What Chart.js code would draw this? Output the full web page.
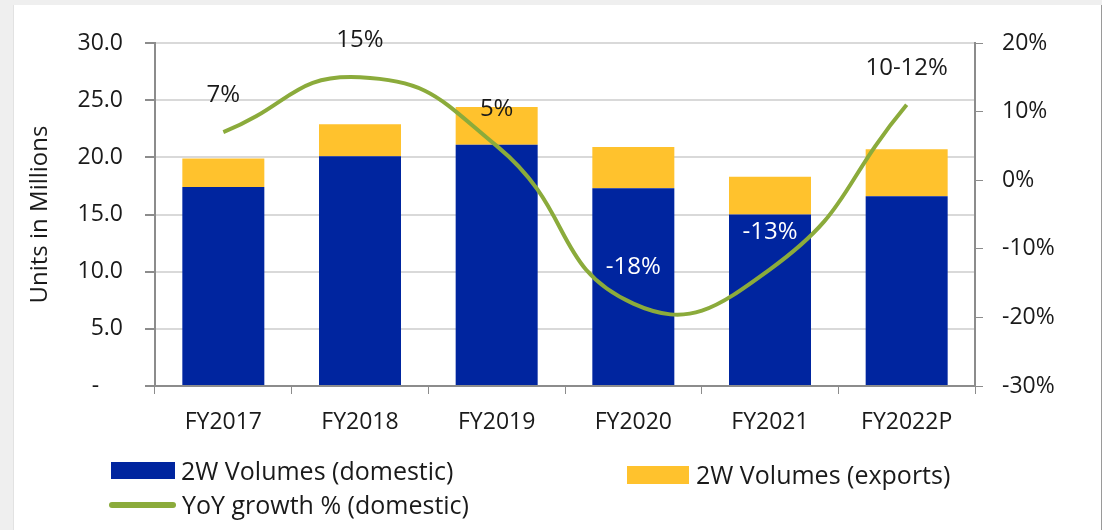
<!DOCTYPE html>
<html>
<head>
<meta charset="utf-8">
<script src="https://cdn.jsdelivr.net/npm/chart.js@4.4.1/dist/chart.umd.min.js"></script>
<style>
  html, body { margin: 0; padding: 0; }
  body { width: 1102px; height: 530px; background: #efefef; position: relative; overflow: hidden; font-family: "Open Sans", Lato, sans-serif; }
  #panel { position: absolute; left: 13px; top: 5px; width: 1087px; height: 525px; background: #fff; border-right: 1px solid #9a9a9a; border-left: 1px solid #e2e2e2; }
  #wrap { position: absolute; left: 0; top: 0; width: 1102px; height: 530px; }
  .lg { position: absolute; font-size: 25px; color: #1a1a1a; line-height: 26px; white-space: nowrap; }
  .sw { position: absolute; }
</style>
</head>
<body>
<div id="panel"></div>
<div id="wrap"><canvas id="chart" width="1102" height="530"></canvas></div>

<div class="sw" style="left:111px;top:462px;width:64px;height:17px;background:#00259f;"></div>
<div class="lg" style="left:181px;top:457px;">2W Volumes (domestic)</div>
<div class="sw" style="left:627px;top:466px;width:62px;height:18px;background:#ffc22d;"></div>
<div class="lg" style="left:696px;top:461px;">2W Volumes (exports)</div>
<div class="sw" style="left:109px;top:502px;width:67px;height:6px;border-radius:3px;background:#8bab3b;"></div>
<div class="lg" style="left:182px;top:491px;">YoY growth % (domestic)</div>

<script>
// values (units in millions / % growth)
const years = ['FY2017', 'FY2018', 'FY2019', 'FY2020', 'FY2021', 'FY2022P'];
const domestic = [17.4, 20.1, 21.1, 17.3, 15.0, 16.6];
const exportsVol = [2.5, 2.8, 3.3, 3.6, 3.3, 4.1];
const growth = [7, 15, 5, -18, -13, 11];
const growthLabels = ['7%', '15%', '5%', '-18%', '-13%', '10-12%'];
const labelColors = ['#1a1a1a', '#1a1a1a', '#1a1a1a', '#ffffff', '#ffffff', '#1a1a1a'];

const textColor = '#1a1a1a';
const axisColor = '#8c8c8c';
const gridColor = '#d9d9d9';
const fontFamily = '"Open Sans"';

// draw the % labels above each line point
const growthLabelPlugin = {
  id: 'growthLabels',
  afterDatasetsDraw(chart) {
    const meta = chart.getDatasetMeta(2);
    const ctx = chart.ctx;
    ctx.save();
    ctx.font = '24px ' + fontFamily;
    ctx.textAlign = 'center';
    ctx.textBaseline = 'middle';
    meta.data.forEach((pt, i) => {
      ctx.fillStyle = labelColors[i];
      ctx.fillText(growthLabels[i], pt.x, pt.y - 37);
    });
    ctx.restore();
  }
};

new Chart(document.getElementById('chart').getContext('2d'), {
  type: 'bar',
  data: {
    labels: years,
    datasets: [
      {
        label: '2W Volumes (domestic)',
        data: domestic,
        backgroundColor: '#00259f',
        stack: 'vol',
        yAxisID: 'y',
        order: 2,
        barPercentage: 0.6,
        categoryPercentage: 1
      },
      {
        label: '2W Volumes (exports)',
        data: exportsVol,
        backgroundColor: '#ffc22d',
        stack: 'vol',
        yAxisID: 'y',
        order: 2,
        barPercentage: 0.6,
        categoryPercentage: 1
      },
      {
        type: 'line',
        label: 'YoY growth % (domestic)',
        data: growth,
        borderColor: '#8bab3b',
        borderWidth: 4,
        pointRadius: 0,
        tension: 0.5,
        fill: false,
        yAxisID: 'y1',
        order: 0
      }
    ]
  },
  options: {
    responsive: false,
    animation: false,
    layout: { padding: { left: 13, top: 43, right: 0, bottom: 0 } },
    plugins: {
      legend: { display: false },
      tooltip: { enabled: false }
    },
    scales: {
      x: {
        stacked: true,
        afterFit(s) { s.height = 144; },
        ticks: { color: textColor, font: { family: fontFamily, size: 23 }, padding: 15 },
        grid: { drawOnChartArea: false, color: axisColor, tickLength: 8, offset: true },
        border: { color: axisColor, width: 2 }
      },
      y: {
        stacked: true,
        position: 'left',
        min: 0,
        max: 30,
        afterFit(s) { s.width = 142; },
        ticks: {
          stepSize: 5,
          color: textColor,
          font: { family: fontFamily, size: 23 },
          padding: 22,
          callback: v => v === 0 ? '-    ' : v.toFixed(1)
        },
        grid: { color: gridColor, lineWidth: 2, tickColor: axisColor, tickLength: 10 },
        border: { color: axisColor, width: 2 },
        title: {
          display: true,
          text: 'Units in Millions',
          color: textColor,
          font: { family: fontFamily, size: 24 },
          padding: { top: 13, bottom: 0 }
        }
      },
      y1: {
        position: 'right',
        min: -30,
        max: 20,
        afterFit(s) { s.width = 127; },
        ticks: {
          stepSize: 10,
          color: textColor,
          font: { family: fontFamily, size: 23 },
          padding: 19,
          callback: v => v + '%'
        },
        grid: { drawOnChartArea: false, color: axisColor, tickLength: 8 },
        border: { color: axisColor, width: 2 }
      }
    }
  },
  plugins: [growthLabelPlugin]
});
</script>
</body>
</html>
